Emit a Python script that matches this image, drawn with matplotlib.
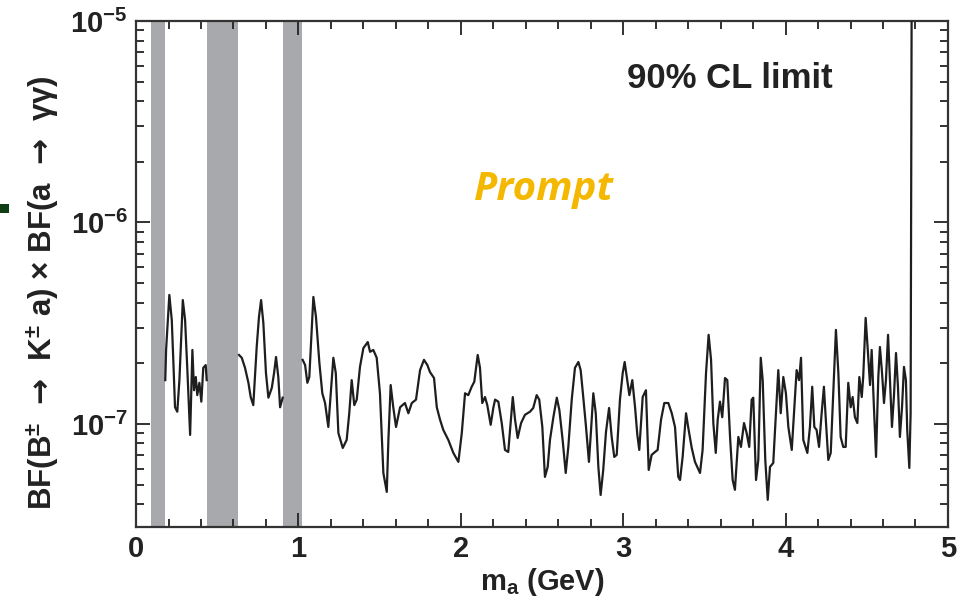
import matplotlib
matplotlib.use('Agg')
import matplotlib.pyplot as plt
from matplotlib.patches import Rectangle
from matplotlib.ticker import FixedLocator, LogLocator, MultipleLocator, NullFormatter

# 90% CL upper limit on BF(B -> K a) x BF(a -> gg), in units of 1e-7
# segment between the pi0 and eta vetoes
seg1_mass = [0.180, 0.185, 0.205, 0.220, 0.230, 0.240, 0.254, 0.267, 0.288, 0.302,
             0.316, 0.333, 0.347, 0.357, 0.368, 0.377, 0.390, 0.402, 0.414, 0.429, 0.435]
seg1_limit = [1.65, 2.33, 4.37, 3.28, 2.01, 1.21, 1.15, 1.65, 4.12, 3.28,
              1.85, 0.882, 2.33, 1.47, 1.71, 1.39, 1.60, 1.29, 1.90, 1.96, 1.65]

# segment between the eta and eta' vetoes
seg2_mass = [0.634, 0.651, 0.671, 0.692, 0.706, 0.722, 0.743, 0.757, 0.770, 0.784,
             0.800, 0.815, 0.836, 0.850, 0.862, 0.876, 0.887, 0.903]
seg2_limit = [2.20, 2.13, 1.90, 1.60, 1.36, 1.24, 2.41, 3.40, 4.12, 3.17,
              1.79, 1.35, 1.51, 1.79, 2.15, 1.71, 1.21, 1.35]

# segment above the eta' veto
seg3_mass = [1.026, 1.041, 1.055, 1.067, 1.092, 1.108, 1.129, 1.147, 1.164, 1.184,
             1.199, 1.215, 1.230, 1.246, 1.273, 1.297, 1.313, 1.328, 1.344, 1.359,
             1.379, 1.400, 1.427, 1.441, 1.461, 1.482, 1.502, 1.523, 1.544, 1.554,
             1.568, 1.584, 1.601, 1.626, 1.656, 1.677, 1.698, 1.724, 1.749, 1.773,
             1.794, 1.810, 1.835, 1.852, 1.872, 1.892, 1.923, 1.954, 1.985, 2.006,
             2.026, 2.046, 2.067, 2.083, 2.104, 2.118, 2.132, 2.149, 2.163, 2.184,
             2.200, 2.211, 2.231, 2.252, 2.272, 2.292, 2.320, 2.334, 2.350, 2.371,
             2.395, 2.426, 2.446, 2.467, 2.483, 2.502, 2.518, 2.535, 2.549, 2.570,
             2.591, 2.607, 2.627, 2.646, 2.662, 2.683, 2.703, 2.724, 2.738, 2.754,
             2.771, 2.789, 2.802, 2.816, 2.831, 2.847, 2.861, 2.877, 2.894, 2.913,
             2.929, 2.945, 2.960, 2.980, 2.997, 3.009, 3.025, 3.038, 3.056, 3.073,
             3.087, 3.099, 3.120, 3.140, 3.157, 3.175, 3.196, 3.212, 3.233, 3.253,
             3.278, 3.299, 3.319, 3.339, 3.350, 3.366, 3.387, 3.401, 3.422, 3.442,
             3.473, 3.489, 3.510, 3.526, 3.541, 3.555, 3.570, 3.582, 3.596, 3.610,
             3.627, 3.641, 3.658, 3.674, 3.688, 3.709, 3.725, 3.744, 3.760, 3.776,
             3.791, 3.801, 3.818, 3.832, 3.847, 3.859, 3.875, 3.890, 3.904, 3.924,
             3.939, 3.955, 3.970, 3.986, 4.002, 4.017, 4.038, 4.054, 4.068, 4.083,
             4.095, 4.109, 4.134, 4.150, 4.164, 4.177, 4.191, 4.206, 4.222, 4.236,
             4.249, 4.263, 4.278, 4.294, 4.310, 4.325, 4.339, 4.355, 4.370, 4.386,
             4.401, 4.413, 4.427, 4.442, 4.454, 4.469, 4.478, 4.493, 4.505, 4.520,
             4.530, 4.544, 4.557, 4.571, 4.581, 4.594, 4.606, 4.618, 4.631, 4.643,
             4.655, 4.667, 4.680, 4.692, 4.704, 4.717, 4.729, 4.741, 4.749, 4.762,
             4.770, 4.776]
seg3_limit = [2.08, 1.96, 1.60, 1.71, 4.27, 3.40, 2.01, 1.42, 1.27, 0.966,
              1.42, 2.13, 1.79, 0.902, 0.760, 0.833, 1.13, 1.65, 1.24, 1.32,
              1.92, 2.38, 2.55, 2.28, 2.33, 2.13, 1.42, 0.571, 0.460, 0.833,
              1.56, 1.21, 0.966, 1.21, 1.27, 1.13, 1.27, 1.32, 1.85, 2.08,
              1.96, 1.81, 1.69, 1.21, 1.05, 0.934, 0.833, 0.718, 0.648, 0.902,
              1.42, 1.39, 1.53, 1.62, 2.20, 1.90, 1.27, 1.36, 1.24, 0.99,
              1.20, 1.32, 1.29, 1.01, 0.743, 0.726, 1.36, 1.05, 0.852, 1.01,
              1.11, 1.15, 1.20, 1.39, 1.32, 0.966, 0.546, 0.612, 0.833, 1.08,
              1.35, 1.17, 0.833, 0.571, 0.769, 1.32, 1.90, 2.03, 1.85, 1.36,
              0.966, 0.648, 0.934, 1.42, 1.13, 0.612, 0.444, 0.591, 0.913, 1.20,
              0.862, 0.686, 0.702, 1.32, 1.79, 2.03, 1.65, 1.39, 1.65, 1.21,
              0.882, 0.743, 1.36, 1.47, 0.591, 0.702, 0.726, 0.743, 1.05, 1.27,
              1.27, 1.13, 0.966, 0.546, 0.527, 0.686, 1.13, 0.955, 0.760, 0.648,
              0.571, 0.743, 1.79, 2.77, 2.08, 1.01, 0.718, 1.05, 1.29, 1.08,
              1.69, 1.65, 0.862, 0.527, 0.471, 0.862, 0.769, 1.01, 0.902, 0.769,
              1.32, 1.35, 0.527, 0.663, 2.13, 1.65, 0.663, 0.420, 0.612, 0.640,
              1.08, 1.85, 1.13, 1.71, 1.42, 0.966, 0.743, 1.21, 1.85, 1.65,
              2.13, 0.833, 0.718, 0.966, 1.53, 0.966, 0.934, 0.769, 1.13, 1.53,
              1.01, 0.663, 0.718, 1.47, 2.93, 1.79, 0.862, 0.769, 0.769, 1.60,
              1.21, 1.36, 1.08, 1.01, 1.71, 1.36, 1.71, 3.36, 2.41, 1.56,
              2.33, 1.21, 0.686, 1.71, 2.41, 1.79, 1.27, 1.65, 2.77, 1.65,
              0.966, 1.36, 2.25, 1.53, 0.862, 1.21, 1.92, 1.65, 0.934, 0.605,
              1.13, 100.0]

# excluded mass regions (pi0, eta, eta')
veto_lo = [0.094, 0.440, 0.906]
veto_hi = [0.180, 0.630, 1.020]

x_ticks = [0, 1, 2, 3, 4, 5]
y_ticks = [1e-7, 1e-6, 1e-5]
y_tick_labels = [r'$\mathbf{10^{-7}}$', r'$\mathbf{10^{-6}}$', r'$\mathbf{10^{-5}}$']

plt.rcParams['font.family'] = ['Liberation Sans', 'DejaVu Sans']
plt.rcParams['font.weight'] = 'bold'
plt.rcParams['axes.labelweight'] = 'bold'
plt.rcParams['mathtext.fontset'] = 'custom'
plt.rcParams['mathtext.rm'] = 'Liberation Sans:bold'
plt.rcParams['mathtext.bf'] = 'Liberation Sans:bold'
plt.rcParams['mathtext.it'] = 'Liberation Sans:bold'
plt.rcParams['mathtext.sf'] = 'DejaVu Sans:bold'

fig = plt.figure(figsize=(9.69, 6.06), dpi=100)
ax = fig.add_axes([0.1404, 0.1304, 0.8379, 0.8349])

for lo, hi in zip(veto_lo, veto_hi):
    ax.axvspan(lo, hi, color='#a7a9ac', lw=0, zorder=1)

scale = 1e-7
for m, lim in [(seg1_mass, seg1_limit), (seg2_mass, seg2_limit), (seg3_mass, seg3_limit)]:
    ax.plot(m, [v * scale for v in lim], color='#1e1e1e', lw=1.6, zorder=3)

ax.set_yscale('log')
ax.set_xlim(0, 5)
ax.set_ylim(3.08e-8, 1e-5)

ax.xaxis.set_major_locator(FixedLocator(x_ticks))
ax.xaxis.set_minor_locator(MultipleLocator(0.2))
ax.set_xticklabels([str(t) for t in x_ticks])
ax.yaxis.set_major_locator(FixedLocator(y_ticks))
ax.yaxis.set_minor_locator(LogLocator(base=10, subs=range(2, 10)))
ax.yaxis.set_minor_formatter(NullFormatter())
ax.set_yticklabels(y_tick_labels)

ax.tick_params(which='both', direction='in', top=True, right=True, colors='#222222',
               labelsize=21, width=1.3)
ax.tick_params(which='major', length=10, pad=6)
ax.tick_params(which='minor', length=6)
for s in ax.spines.values():
    s.set_linewidth(1.6)
    s.set_color('#333333')

ax.set_xlabel(r'm$_{\mathbf{a}}$ (GeV)', fontsize=21, labelpad=2, color='#222222')
ax.set_ylabel(r'BF(B$^{\pm}$ $\mathsf{\ →\ }$ K$^{\pm}$ a) × BF(a $\mathsf{\ →\ }$ γγ)',
              fontsize=22.5, color='#222222')
ax.yaxis.set_label_coords(-0.093, 0.464)

ax.text(0.731, 0.887, '90% CL limit', transform=ax.transAxes, ha='center', va='center',
        fontsize=25, fontweight='bold', color='#222222')
ax.text(0.503, 0.668, 'Prompt', transform=ax.transAxes, ha='center', va='center',
        fontsize=29, fontweight='bold', style='italic',
        family=['Open Sans', 'DejaVu Sans'], color='#f5b800')

# small dark mark at the left edge of the screenshot
fig.patches.append(Rectangle((0, 0.648), 0.009, 0.015, transform=fig.transFigure,
                             color='#0f3d14', lw=0))

fig.savefig('out.png', dpi=100)
